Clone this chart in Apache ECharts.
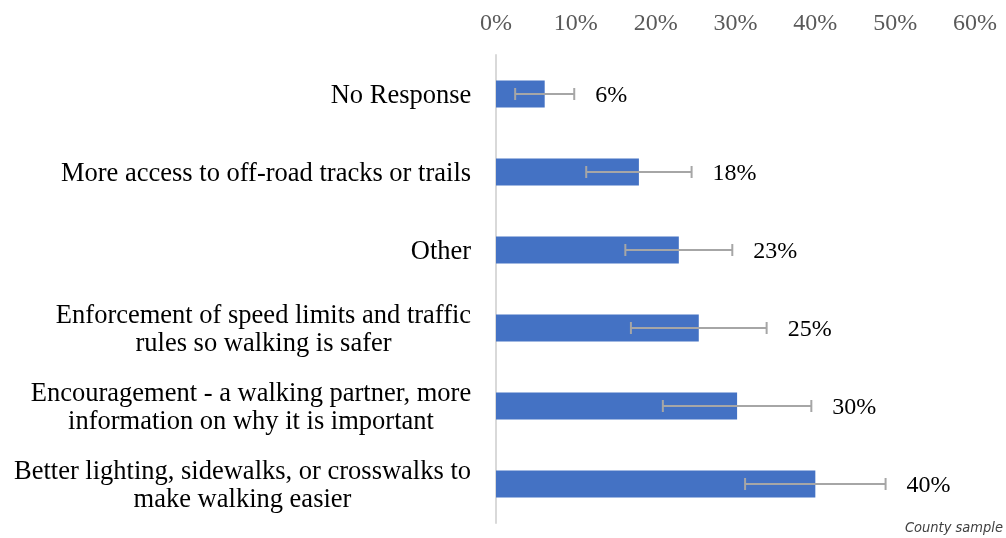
<!DOCTYPE html>
<html>
<head>
<meta charset="utf-8">
<script src="https://cdn.jsdelivr.net/npm/echarts@6/dist/echarts.min.js"></script>
<style>
  html, body { margin: 0; padding: 0; background: #fff; }
  #chart-container { width: 1006px; height: 538px; }
</style>
</head>
<body>
<div id="chart-container"></div>
<script>
var categories = [
  "No Response",
  "More access to off-road tracks or trails",
  "Other",
  "Enforcement of speed limits and traffic\nrules so walking is safer",
  "Encouragement - a walking partner, more\ninformation on why it is important",
  "Better lighting, sidewalks, or crosswalks to\nmake walking easier"
];
var values = [6.1, 17.9, 22.9, 25.4, 30.2, 40.0];
var errors = [3.7, 6.6, 6.7, 8.5, 9.3, 8.8];
var xTicks = [0, 10, 20, 30, 40, 50, 60];

var catFont = '26.5px "Liberation Serif"';
var numFont = '24px "Liberation Serif"';

// measure each label so its lines can be centred inside a right-aligned block
var ctx = document.createElement("canvas").getContext("2d");
ctx.font = catFont;
var rich = {};
categories.forEach(function (c, i) {
  var w = 0;
  c.split("\n").forEach(function (l) {
    w = Math.max(w, ctx.measureText(l).width);
  });
  rich["c" + i] = {
    width: Math.ceil(w) + 1,
    align: "center",
    fontFamily: "Liberation Serif",
    fontSize: 26.5,
    lineHeight: 28,
    color: "#000"
  };
});

var dom = document.getElementById("chart-container");
var myChart = echarts.init(dom, null, { renderer: "canvas" });

var errData = values.map(function (v, i) {
  return [v, i, errors[i]];
});

var option = {
  animation: false,
  grid: { left: 496, right: 31, top: 55, bottom: 15, containLabel: false },
  xAxis: {
    type: "value",
    position: "top",
    min: xTicks[0],
    max: xTicks[xTicks.length - 1],
    interval: 10,
    axisLine: { show: false },
    axisTick: { show: false },
    splitLine: { show: false },
    axisLabel: {
      formatter: "{value}%",
      color: "#595959",
      fontFamily: "Liberation Serif",
      fontSize: 24,
      margin: 19
    }
  },
  yAxis: {
    type: "category",
    inverse: true,
    data: categories,
    axisLine: { show: true, lineStyle: { color: "#d9d9d9", width: 2 } },
    axisTick: { show: false },
    axisLabel: {
      margin: 24,
      padding: [4, 0, 0, 0],
      formatter: function (v) {
        var i = categories.indexOf(v);
        return v.split("\n").map(function (l) {
          return "{c" + i + "|" + l + "}";
        }).join("\n");
      },
      rich: rich
    }
  },
  series: [
    {
      type: "bar",
      data: values,
      barWidth: 27,
      itemStyle: { color: "#4472C4" }
    },
    {
      type: "custom",
      data: errData,
      encode: { x: 0, y: 1 },
      z: 3,
      renderItem: function (params, api) {
        var v = api.value(0);
        var idx = api.value(1);
        var e = api.value(2);
        var lo = api.coord([v - e, idx]);
        var hi = api.coord([v + e, idx]);
        var cap = 6;
        var st = { stroke: "#a6a6a6", lineWidth: 2 };
        return {
          type: "group",
          children: [
            { type: "line", shape: { x1: lo[0], y1: lo[1], x2: hi[0], y2: hi[1] }, style: st },
            { type: "line", shape: { x1: lo[0], y1: lo[1] - cap, x2: lo[0], y2: lo[1] + cap }, style: st },
            { type: "line", shape: { x1: hi[0], y1: hi[1] - cap, x2: hi[0], y2: hi[1] + cap }, style: st },
            {
              type: "text",
              x: hi[0] + 21,
              y: hi[1] + 2,
              style: {
                text: Math.round(v) + "%",
                font: numFont,
                fill: "#000",
                verticalAlign: "middle"
              }
            }
          ]
        };
      }
    }
  ],
  graphic: [
    {
      type: "text",
      right: 3,
      bottom: 2,
      style: {
        text: "County sample",
        font: 'italic 14.5px "DejaVu Sans Condensed", "Liberation Sans"',
        fill: "#404040"
      }
    }
  ]
};

myChart.setOption(option);
window.addEventListener("resize", myChart.resize);
</script>
</body>
</html>
